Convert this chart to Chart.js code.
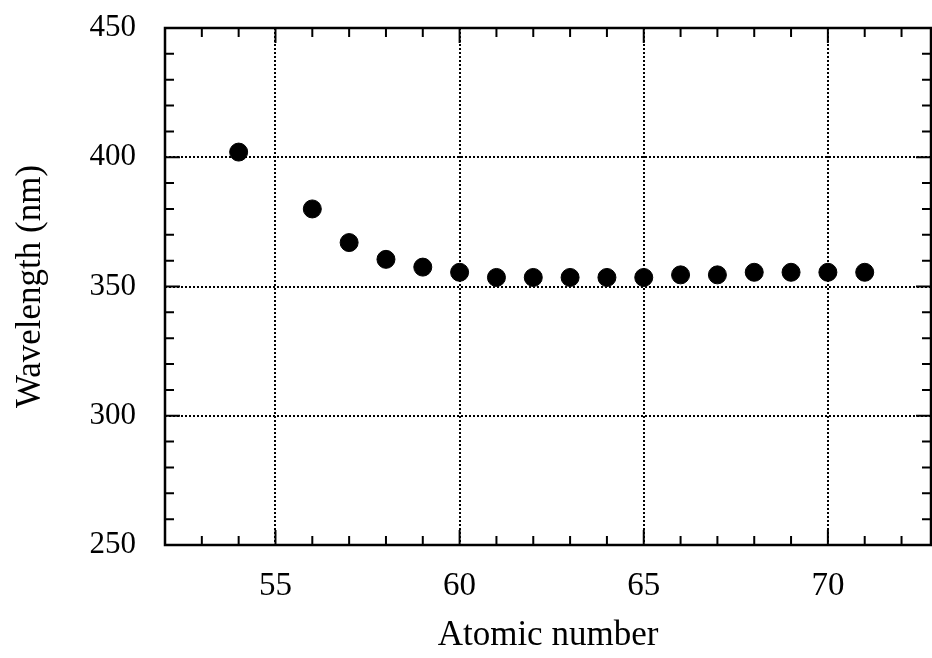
<!DOCTYPE html>
<html>
<head>
<meta charset="utf-8">
<script src="https://cdn.jsdelivr.net/npm/chart.js@4/dist/chart.umd.min.js"></script>
<style>
  html, body { margin: 0; padding: 0; background: #fff; }
  canvas { display: block; }
</style>
</head>
<body>
<canvas id="chart" width="932" height="658"></canvas>
<script>
const atomicNumbers = [54, 56, 57, 58, 59, 60, 61, 62, 63, 64, 65, 66, 67, 68, 69, 70, 71];
const wavelengths = [402, 380, 367, 360.5, 357.5, 355.5, 353.5, 353.5, 353.5, 353.5, 353.5, 354.5, 354.5, 355.5, 355.5, 355.5, 355.5];

const xMajor = [55, 60, 65, 70];
const xMinor = [53, 54, 56, 57, 58, 59, 61, 62, 63, 64, 66, 67, 68, 69, 71, 72];
const yMajor = [250, 300, 350, 400, 450];
const yMinor = [260, 270, 280, 290, 310, 320, 330, 340, 360, 370, 380, 390, 410, 420, 430, 440];

const serif = "'Liberation Serif', 'Times New Roman', serif";

// frame + inward tick marks on all four sides
const frameTicks = {
  id: "frameTicks",
  afterDraw(chart) {
    const { ctx, chartArea: a, scales } = chart;
    ctx.save();
    ctx.strokeStyle = "#000";
    ctx.lineWidth = 2;
    const tickX = (v, len) => {
      const px = scales.x.getPixelForValue(v);
      ctx.beginPath();
      ctx.moveTo(px, a.bottom); ctx.lineTo(px, a.bottom - len);
      ctx.moveTo(px, a.top); ctx.lineTo(px, a.top + len);
      ctx.stroke();
    };
    const tickY = (v, len) => {
      const py = scales.y.getPixelForValue(v);
      ctx.beginPath();
      ctx.moveTo(a.left, py); ctx.lineTo(a.left + len, py);
      ctx.moveTo(a.right, py); ctx.lineTo(a.right - len, py);
      ctx.stroke();
    };
    xMinor.forEach((v) => tickX(v, 9));
    xMajor.forEach((v) => tickX(v, 15));
    yMinor.forEach((v) => tickY(v, 9));
    yMajor.forEach((v) => tickY(v, 15));
    ctx.lineWidth = 2.5;
    ctx.strokeRect(a.left, a.top, a.right - a.left, a.bottom - a.top);
    ctx.restore();
  },
};

new Chart(document.getElementById("chart"), {
  type: "scatter",
  data: {
    datasets: [{
      data: atomicNumbers.map((x, i) => ({ x, y: wavelengths[i] })),
      backgroundColor: "#000",
      borderColor: "#000",
      pointRadius: 9,
      pointHoverRadius: 9,
    }],
  },
  options: {
    responsive: false,
    animation: false,
    events: [],
    layout: { autoPadding: false, padding: { top: 28, right: 1, left: 0, bottom: 0 } },
    plugins: { legend: { display: false }, tooltip: { enabled: false } },
    scales: {
      x: {
        type: "linear",
        min: 52,
        max: 72.8,
        afterBuildTicks: (s) => { s.ticks = xMajor.map((v) => ({ value: v })); },
        afterFit: (s) => { s.height = 113; s.paddingLeft = 0; s.paddingRight = 0; },
        border: { display: false, dash: [2, 2] },
        grid: { color: "#000", lineWidth: 2, drawTicks: false },
        ticks: { color: "#000", padding: 22, maxRotation: 0, font: { family: serif, size: 33 } },
        title: {
          display: true,
          text: "Atomic number",
          color: "#000",
          font: { family: serif, size: 35 },
          padding: { top: 0, bottom: 1 },
        },
      },
      y: {
        min: 250,
        max: 450,
        afterBuildTicks: (s) => { s.ticks = yMajor.map((v) => ({ value: v })); },
        afterFit: (s) => { s.width = 165; s.paddingTop = 0; s.paddingBottom = 0; },
        border: { display: false, dash: [2, 2] },
        grid: { color: "#000", lineWidth: 2, drawTicks: false },
        ticks: { color: "#000", padding: 29, font: { family: serif, size: 31 } },
        title: {
          display: true,
          text: "Wavelength (nm)",
          color: "#000",
          font: { family: serif, size: 35 },
          padding: { top: 10, bottom: 0 },
        },
      },
    },
  },
  plugins: [frameTicks],
});
</script>
</body>
</html>
